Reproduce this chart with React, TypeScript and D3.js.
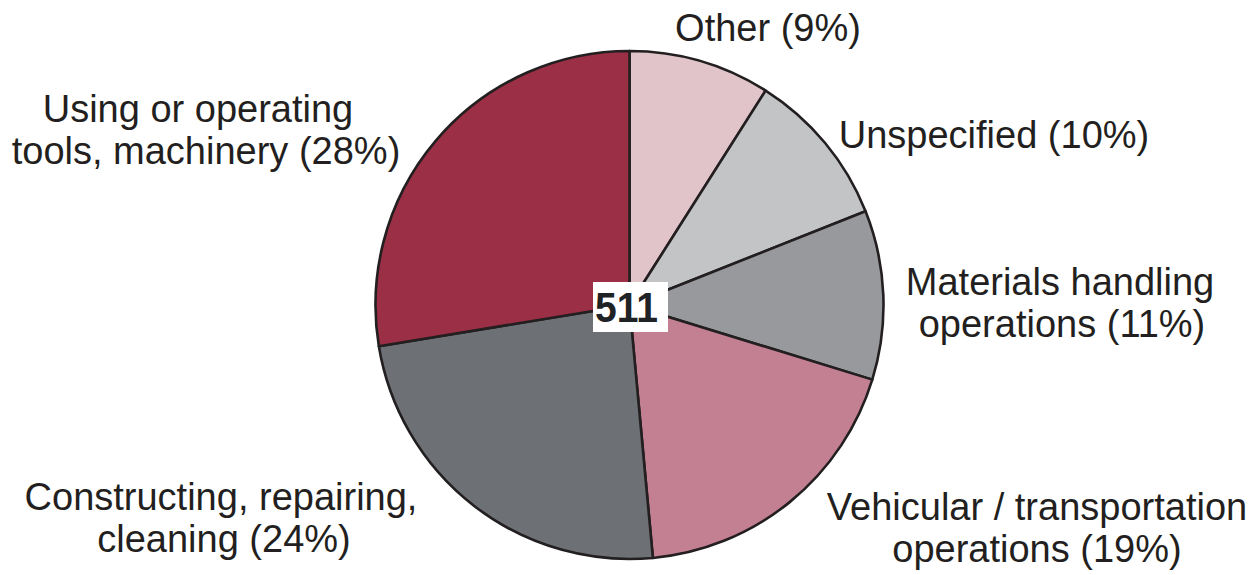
import React from "react";
import * as d3 from "d3";

const categories = [
  "Other",
  "Unspecified",
  "Materials handling operations",
  "Vehicular / transportation operations",
  "Constructing, repairing, cleaning",
  "Using or operating tools, machinery",
];
const counts = [46, 51, 55, 96, 122, 141];
const percentLabels = ["9%", "10%", "11%", "19%", "24%", "28%"];
const colors = ["#e0c4c9", "#c3c4c6", "#98999d", "#c48093", "#6d7075", "#9a2f45"];
const labelLines = [
  ["Other (9%)"],
  ["Unspecified (10%)"],
  ["Materials handling", "operations (11%)"],
  ["Vehicular / transportation", "operations (19%)"],
  ["Constructing, repairing,", "cleaning (24%)"],
  ["Using or operating", "tools, machinery (28%)"],
];
const total = 511;

const W = 1260;
const H = 575;
const cx = 629.5;
const cy = 305;
const R = 254;

// label anchor positions (centre x for each line, first baseline)
const labelPos = [
  { xs: [768], y: 41 },
  { xs: [994], y: 148 },
  { xs: [1060, 1062], y: 295 },
  { xs: [1037, 1037], y: 520 },
  { xs: [221, 224], y: 510 },
  { xs: [198, 206], y: 122 },
];
const lineGap = 42;

export default function App() {
  const data = categories.map((c, i) => ({ c, v: counts[i], i }));
  const pie = d3
    .pie<any>()
    .sort(null)
    .value((d) => d.v)
    .startAngle(0)
    .endAngle(2 * Math.PI);
  const arcs = pie(data);
  const arc = d3.arc<any>().innerRadius(0).outerRadius(R);
  const font = "'Liberation Sans', Arial, Helvetica, sans-serif";

  return (
    <svg
      width={W}
      height={H}
      style={{ position: "absolute", left: 0, top: 0, background: "#fff" }}
    >
      <g transform={`translate(${cx},${cy})`}>
        {arcs.map((a, i) => (
          <path
            key={i}
            d={arc(a) as string}
            fill={colors[i]}
            stroke="#231f20"
            strokeWidth={2.6}
            strokeLinejoin="round"
          />
        ))}
      </g>
      <rect x={593} y={282} width={75} height={50} fill="#fff" />
      <text
        x={595}
        y={322}
        textLength={63}
        lengthAdjust="spacingAndGlyphs"
        fontFamily={font}
        fontWeight="bold"
        fontSize={42}
        fill="#1f2326"
      >
        {total}
      </text>
      {labelLines.map((lines, i) =>
        lines.map((ln, j) => (
          <text
            key={`${i}-${j}`}
            x={labelPos[i].xs[j]}
            y={labelPos[i].y + j * lineGap}
            textAnchor="middle"
            fontFamily={font}
            fontSize={38}
            fill="#231f20"
          >
            {ln}
          </text>
        ))
      )}
    </svg>
  );
}
